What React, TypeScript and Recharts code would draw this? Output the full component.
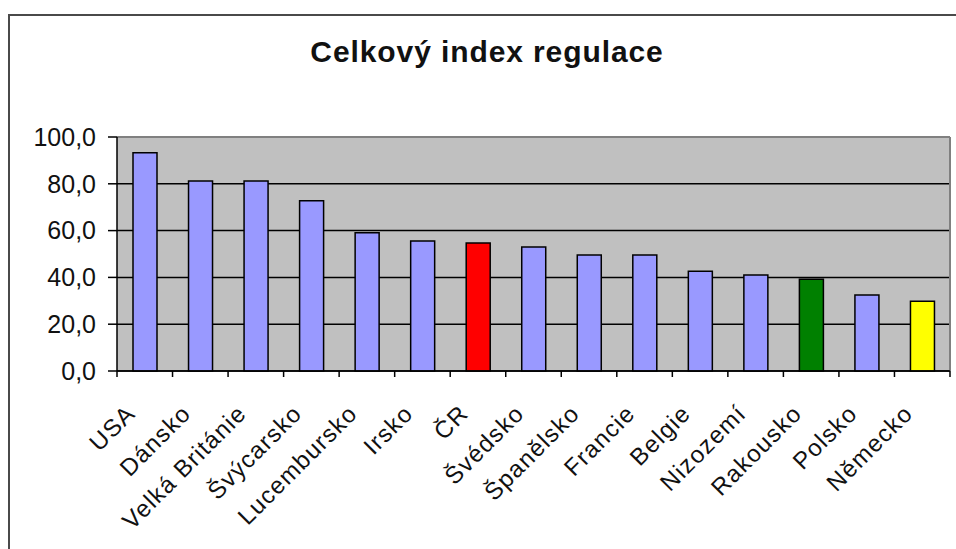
import React from 'react';
import { BarChart, Bar, XAxis, YAxis, CartesianGrid, Cell, ReferenceLine } from 'recharts';

// Countries shown on the category axis
const categories = [
  'USA', 'Dánsko', 'Velká Británie', 'Švýcarsko', 'Lucembursko', 'Irsko', 'ČR',
  'Švédsko', 'Španělsko', 'Francie', 'Belgie', 'Nizozemí', 'Rakousko', 'Polsko', 'Německo',
];

// Overall regulation index per country
const values = [93.3, 81.2, 81.2, 72.8, 59.1, 55.6, 54.7, 53.0, 49.6, 49.6, 42.6, 41.0, 39.2, 32.5, 29.8];

// Fill colour per bar (highlighted countries differ)
const barColors = [
  '#9999ff', '#9999ff', '#9999ff', '#9999ff', '#9999ff', '#9999ff', '#ff0000',
  '#9999ff', '#9999ff', '#9999ff', '#9999ff', '#9999ff', '#008000', '#9999ff', '#ffff00',
];

const yTicks = [0, 20, 40, 60, 80, 100];

const data = categories.map((name, i) => ({ name, value: values[i] }));

const FONT = '"Liberation Sans", Arial, sans-serif';

const formatY = (v: number) => v.toFixed(1).replace('.', ',');

// Category tick: tick marks sit on the band boundaries, labels are slanted
function XTick(props: any) {
  const { x, y, payload, index } = props;
  const half = payload && payload.offset ? payload.offset : 0;
  const isLast = index === categories.length - 1;
  return (
    <g>
      <line x1={x - half} y1={y} x2={x - half} y2={y + 6} stroke="#000" strokeWidth={1.5} />
      {isLast && <line x1={x + half} y1={y} x2={x + half} y2={y + 6} stroke="#000" strokeWidth={1.5} />}
      <text
        transform={`translate(${x - 8},${y + 44}) rotate(-45)`}
        textAnchor="end"
        fontFamily={FONT}
        fontSize={24}
        letterSpacing={1.2}
        fill="#111"
      >
        {payload.value}
      </text>
    </g>
  );
}

export default function App() {
  return (
    <>
      <style>{'html,body{margin:0;padding:0;overflow:hidden;background:#fff}'}</style>
      <div style={{ position: 'fixed', left: 0, top: 0, width: 956, height: 549, overflow: 'hidden', background: '#fff' }}>
        <svg width={956} height={549} style={{ position: 'absolute', left: 0, top: 0 }}>
          <polyline points="9,549 9,15 956,15" fill="none" stroke="#4a4a4a" strokeWidth={2} />
        </svg>
        <div
          style={{
            position: 'absolute',
            left: 487,
            top: 37,
            transform: 'translateX(-50%)',
            fontFamily: FONT,
            fontWeight: 'bold',
            fontSize: 30,
            letterSpacing: 0.9,
            lineHeight: '30px',
            whiteSpace: 'nowrap',
            color: '#111',
          }}
        >
          Celkový index regulace
        </div>
        <div style={{ position: 'absolute', left: 0, top: 0 }}>
          <BarChart
            width={956}
            height={549}
            data={data}
            margin={{ top: 137, right: 6, bottom: 0, left: 0 }}
            barSize={24}
          >
            <CartesianGrid vertical={false} fill="#c0c0c0" fillOpacity={1} stroke="#000" strokeWidth={1.5} />
            <XAxis
              dataKey="name"
              interval={0}
              height={178}
              tickSize={0}
              tickMargin={0}
              tickLine={false}
              axisLine={{ stroke: '#000', strokeWidth: 1.5 }}
              tick={<XTick />}
            />
            <YAxis
              domain={[0, 100]}
              ticks={yTicks}
              tickFormatter={formatY}
              width={117}
              tickSize={9}
              tickMargin={12}
              axisLine={{ stroke: '#000', strokeWidth: 1.5 }}
              tickLine={{ stroke: '#000', strokeWidth: 1.5 }}
              tick={{ fontFamily: FONT, fontSize: 25, fill: '#111' }}
            />
            <ReferenceLine y={100} stroke="#808080" strokeWidth={2} />
            <ReferenceLine x={categories[categories.length - 1]} position="end" stroke="#808080" strokeWidth={2} />
            <Bar dataKey="value" stroke="#000" strokeWidth={1.5} isAnimationActive={false}>
              {data.map((d, i) => (
                <Cell key={d.name} fill={barColors[i]} />
              ))}
            </Bar>
          </BarChart>
        </div>
      </div>
    </>
  );
}
